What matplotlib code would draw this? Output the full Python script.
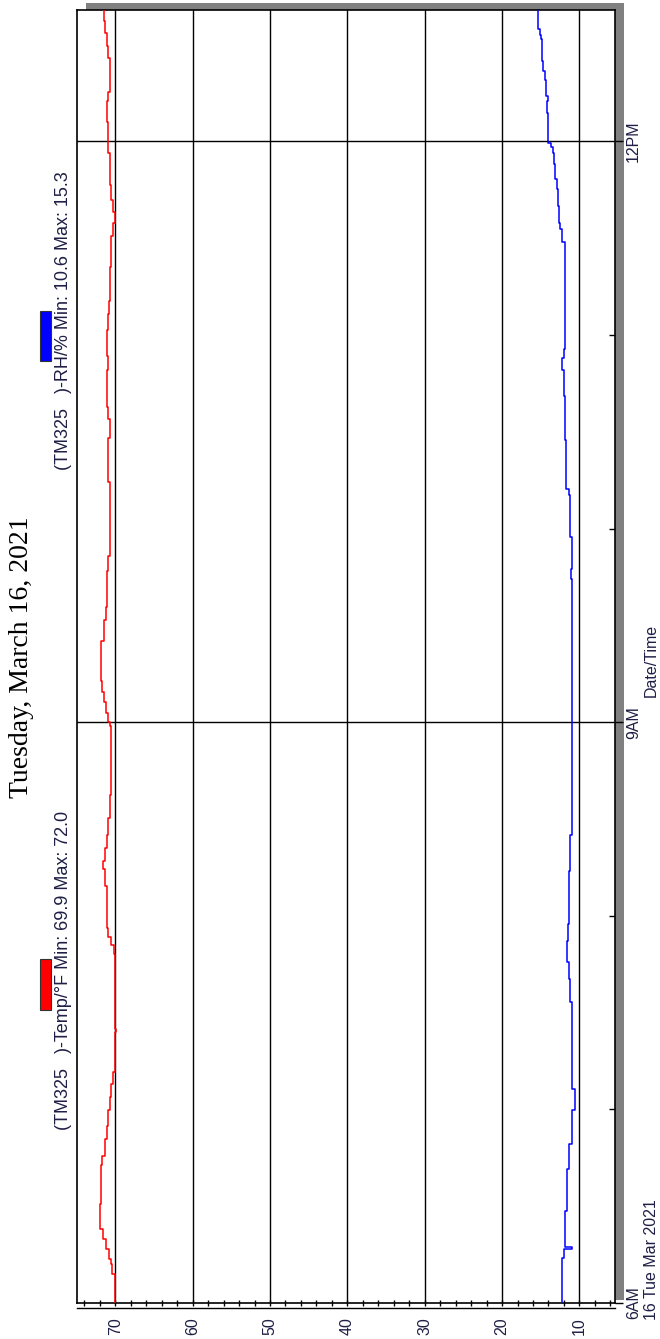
"""Rotated logger chart: TM325 temperature / RH, Tuesday March 16 2021."""
import matplotlib
matplotlib.use("Agg")
import matplotlib.pyplot as plt
from matplotlib.patches import Rectangle
from matplotlib.lines import Line2D

# ── Data (minutes after 6AM, value held until next entry) ──────
temp_min = [0, 1.5, 9, 12, 13.5, 16.6, 19.7, 22.8, 30.6, 42.9, 45.5, 50.8,
            54.7, 59.9, 63.8, 67.8, 71.7, 84, 85, 108.3, 110.9, 113.5, 116.2,
            129.2, 134.5, 137.1, 141.0, 144.9, 150.2, 157.4, 178.9, 180.2,
            182.9, 186.1, 189.4, 192.7, 205.3, 211.8, 215.8, 226.9, 231.5,
            254.3, 268.0, 273.9, 277.8, 289.0, 293.5, 301.4, 306.6, 310.5,
            321.0, 330.8, 334.7, 338.0, 341.9, 346.5, 356.3, 360.2, 366.1,
            372.6, 375.2, 385.7, 389.6, 393.5, 397.4]
temp_val = [70.0, 70.1, 70.4, 70.6, 70.8, 71.2, 71.6, 72.0, 71.8, 71.7, 71.3,
            71.1, 70.9, 70.7, 70.5, 70.3, 70.0, 69.9, 70.0, 70.2, 70.6, 70.9,
            71.1, 71.3, 71.6, 71.3, 71.1, 70.9, 70.7, 70.5, 70.7, 71.0, 71.2,
            71.5, 71.7, 71.8, 71.5, 71.2, 71.1, 70.9, 70.7, 70.9, 70.7, 70.9,
            71.1, 71.0, 71.1, 71.0, 70.8, 70.7, 70.5, 70.3, 70.1, 70.3, 70.5,
            70.7, 70.9, 71.0, 71.1, 70.9, 70.7, 70.9, 71.1, 71.3, 71.4]

rh_min = [0, 14.1, 16.7, 17.2, 23.3, 28.5, 41.6, 49.4, 59.9, 66.4, 70.4,
          93.3, 100.5, 105.7, 112.2, 117.5, 122.7, 126.6, 133.8, 144.9,
          224.3, 227.5, 237.3, 250.4, 252.4, 267.4, 274.6, 281.1, 289.0,
          292.9, 295.5, 299.4, 321.6, 325.5, 328.8, 332.7, 334.7, 339.9,
          345.2, 348.4, 353.0, 356.3, 358.2, 359.5, 361.5, 365.4, 368.7,
          372.6, 373.9, 379.1, 381.8, 385.0, 391.6, 392.9, 394.8]
rh_val = [12.2, 12.0, 11.0, 11.9, 11.8, 11.6, 11.3, 11.0, 10.6, 10.9, 11.0,
          11.2, 11.4, 11.6, 11.5, 11.3, 11.4, 11.3, 11.2, 10.9, 11.1, 11.0,
          11.2, 11.4, 11.7, 11.8, 11.9, 12.0, 12.2, 12.0, 11.9, 11.8, 11.8,
          11.9, 12.2, 12.5, 12.6, 12.8, 12.9, 13.1, 13.3, 13.4, 13.7, 14.0,
          14.1, 14.1, 14.2, 14.1, 14.3, 14.5, 14.7, 14.9, 15.0, 15.1, 15.3]

end_min = 400.7
value_ticks = [70, 60, 50, 40, 30, 20, 10]
time_ticks = [0, 180, 360]
time_labels = ["6AM", "9AM", "12PM"]
hour_ticks = [60, 120, 240, 300]

SANS = "Liberation Sans"
LABEL = "#1e1e46"

# ── Figure ────────────────────────────────────────────────────
W, H = 660, 1339
fig = plt.figure(figsize=(W / 100, H / 100), dpi=100, facecolor="white")

def fx(px):
    return px / W

def fy(py):
    return (H - py) / H

# grey drop shadow behind the frame
fig.add_artist(Rectangle((fx(86), fy(1300)), fx(623.5) - fx(86), fy(3) - fy(1300),
                         transform=fig.transFigure, facecolor="#808080",
                         edgecolor="none", zorder=-1))

ax = fig.add_axes([fx(77), fy(1303), fx(615) - fx(77), fy(10) - fy(1303)])
ax.set_facecolor("white")
ax.set_xlim(74.95, 5.4)
ax.set_ylim(0, end_min)

# series (value on x, time on y, held steps)
ax.plot(temp_val + [temp_val[-1]], temp_min + [end_min], drawstyle="steps-pre",
        color="#FF0000", lw=1.1, zorder=3)
ax.plot(rh_val + [rh_val[-1]], rh_min + [end_min], drawstyle="steps-pre",
        color="#0000FF", lw=1.1, zorder=3)

# ── Axes & grid ───────────────────────────────────────────────
for s in ax.spines.values():
    s.set_color("black")
    s.set_linewidth(1.2)

ax.set_xticks(value_ticks)
ax.set_xticklabels([str(v) for v in value_ticks])
ax.set_xticks(list(range(6, 75, 2)), minor=True)
ax.tick_params(axis="x", which="both", direction="inout", length=5, width=1,
               color="black")
ax.tick_params(axis="x", which="major", pad=7.5, labelrotation=90,
               labelsize=11.5, labelcolor=LABEL)
for t in ax.get_xticklabels():
    t.set_fontfamily(SANS)

ax.yaxis.tick_right()
ax.set_yticks(time_ticks)
ax.set_yticklabels(time_labels)
ax.set_yticks(hour_ticks, minor=True)
ax.tick_params(axis="y", which="major", direction="out", length=5.8, width=1,
               pad=2, labelrotation=90, labelsize=11.5, labelcolor=LABEL)
ax.tick_params(axis="y", which="minor", direction="in", length=4.3, width=1)
for t in ax.get_yticklabels():
    t.set_fontfamily(SANS)
    t.set_va("center")

for v in value_ticks:
    ax.axvline(v, color="black", lw=1.0, zorder=1)
for m in time_ticks[1:]:
    ax.axhline(m, color="black", lw=1.0, zorder=1)

# second rule of the value-axis band
fig.add_artist(Line2D([fx(77), fx(615)], [fy(1307.5)] * 2, color="black", lw=1.0,
                      transform=fig.transFigure))

# ── Texts ─────────────────────────────────────────────────────
fig.text(fx(22), fy(657), "Tuesday, March 16, 2021", rotation=90, ha="center",
         va="center", fontsize=20, family="Liberation Serif", color="black")

fig.text(fx(63.5), fy(1130), "(TM325   )-Temp/°F Min: 69.9 Max: 72.0", rotation=90,
         ha="center", va="bottom", fontsize=13, family=SANS, color=LABEL)
fig.text(fx(63.5), fy(470), "(TM325   )-RH/% Min: 10.6 Max: 15.3", rotation=90,
         ha="center", va="bottom", fontsize=13, family=SANS, color=LABEL)

fig.add_artist(Rectangle((fx(40), fy(1010)), fx(51) - fx(40), fy(959) - fy(1010),
                         transform=fig.transFigure, facecolor="#FF0000",
                         edgecolor="#333333", lw=0.8))
fig.add_artist(Rectangle((fx(40), fy(361)), fx(51) - fx(40), fy(311) - fy(361),
                         transform=fig.transFigure, facecolor="#0000FF",
                         edgecolor="#333333", lw=0.8))

fig.text(fx(651.5), fy(660), "Date/Time", rotation=90, ha="center", va="center",
         fontsize=11.5, family=SANS, color=LABEL)
fig.text(fx(651.5), fy(1320), "16 Tue Mar 2021", rotation=90, ha="center",
         va="bottom", fontsize=11.5, family=SANS, color=LABEL)

fig.savefig("out.png", dpi=100, facecolor="white")
plt.close(fig)
